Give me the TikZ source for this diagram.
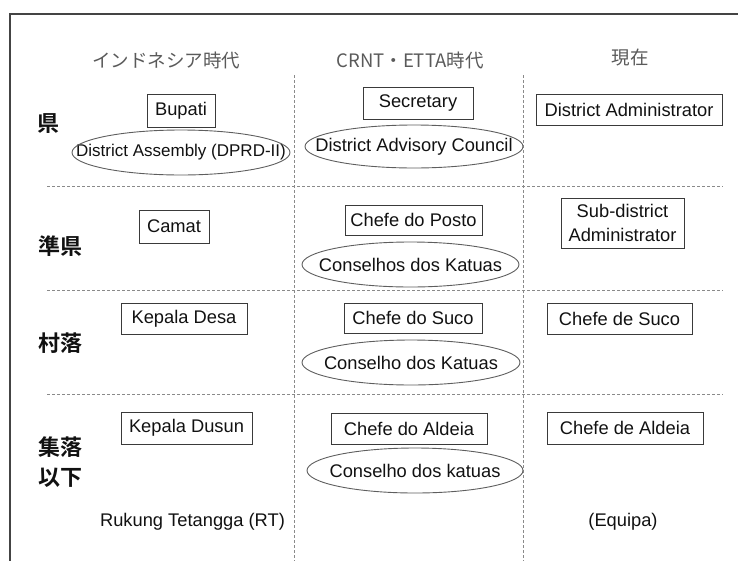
\documentclass[tikz,border=0pt]{standalone}
\usepackage{fontspec}
\setmainfont{Liberation Sans}
\newfontfamily\cjk{Noto Sans CJK JP}
\newfontfamily\cjkb{Noto Sans CJK JP Bold}
\definecolor{txt}{HTML}{111111}
\definecolor{hdr}{HTML}{5A5A5A}
\definecolor{boxc}{HTML}{3A3A3A}
\definecolor{ellc}{HTML}{5E5E5E}
\definecolor{sepc}{HTML}{8A8A8A}
\definecolor{framec}{HTML}{444444}
\tikzset{
  base/.style={text=txt, font=\fontsize{18.3}{24}\selectfont, inner sep=0pt},
  rolebox/.style={base, draw=boxc, line width=1pt, rectangle},
  councilline/.style={draw=ellc, line width=0.9pt},
  header/.style={text=hdr, font=\cjk\fontsize{18.5}{22}\selectfont, inner sep=0pt},
  level/.style={text=txt, font=\cjkb\fontsize{22}{30}\selectfont, inner sep=0pt, align=left},
  sep/.style={draw=sepc, line width=0.8pt, dash pattern=on 3pt off 2pt},
  plain/.style={base}
}
\begin{document}
\begin{tikzpicture}[x=1pt,y=-1pt]
\useasboundingbox (0,0) rectangle (738,560);
% frame
\draw[framec, line width=2pt] (10,562) -- (10,14) -- (740,14);
% headers
\node[header] (h1) at (166,60) {インドネシア時代};
\node[header] (h2) at (410,60) {CRNT・ETTA時代};
\node[header] (h3) at (630,58) {現在};
% separators
\coordinate (v1t) at (294,75); \coordinate (v1b) at (294,562);
\coordinate (v2t) at (523,75); \coordinate (v2b) at (523,562);
\draw[sep] (v1t) -- (v1b);
\draw[sep] (v2t) -- (v2b);
\coordinate (s1l) at (47,186); \coordinate (s1r) at (723,186);
\coordinate (s2l) at (47,290); \coordinate (s2r) at (723,290);
\coordinate (s3l) at (47,394); \coordinate (s3r) at (723,394);
\draw[sep] (s1l) -- (s1r);
\draw[sep] (s2l) -- (s2r);
\draw[sep] (s3l) -- (s3r);
% level labels
\node[level] (l1) at (48,124) {県};
\node[level] (l2) at (60,246) {準県};
\node[level] (l3) at (60,343) {村落};
\node[level] (l4) at (60,462) {集落\\以下};
% row 1
\node[rolebox, minimum width=68pt, minimum height=33pt] (bupati) at (181,110.5) {Bupati};
\node[plain, font=\fontsize{17}{20}\selectfont] (dprd) at (181,152.5) {District Assembly (DPRD-II)};
\draw[councilline] (dprd.center) ellipse [x radius=109, y radius=22.5];
\node[rolebox, minimum width=110pt, minimum height=32pt] (secr) at (418,103) {Secretary};
\node[plain] (dac) at (414,146.5) {District Advisory Council};
\draw[councilline] (dac.center) ellipse [x radius=109, y radius=21.5];
\node[rolebox, minimum width=186pt, minimum height=31pt] (dadm) at (629,109.5) {District Administrator};
% row 2
\node[rolebox, minimum width=70pt, minimum height=33pt] (camat) at (174,226.5) {Camat};
\node[rolebox, minimum width=137pt, minimum height=30pt] (posto) at (413.5,220) {Chefe do Posto};
\node[plain] (cposto) at (410.5,264.5) {Conselhos dos Katuas};
\draw[councilline] (cposto.center) ellipse [x radius=108.5, y radius=22.5];
\node[rolebox, minimum width=123pt, minimum height=50pt, align=center] (sadm) at (622.5,223) {Sub-district\\Administrator};
% row 3
\node[rolebox, minimum width=126pt, minimum height=31pt] (desa) at (184,318.5) {Kepala Desa};
\node[rolebox, minimum width=138pt, minimum height=30pt] (suco) at (413,318) {Chefe do Suco};
\node[plain] (csuco) at (411,362.5) {Conselho dos Katuas};
\draw[councilline] (csuco.center) ellipse [x radius=109, y radius=22.5];
\node[rolebox, minimum width=145pt, minimum height=31pt] (suco2) at (619.5,318.5) {Chefe de Suco};
% row 4
\node[rolebox, minimum width=131pt, minimum height=32pt] (dusun) at (186.5,428) {Kepala Dusun};
\node[rolebox, minimum width=156pt, minimum height=31pt] (aldeia) at (409,428.5) {Chefe do Aldeia};
\node[plain] (caldeia) at (415,470.5) {Conselho dos katuas};
\draw[councilline] (caldeia.center) ellipse [x radius=108, y radius=22.5];
\node[rolebox, minimum width=156pt, minimum height=32pt] (aldeia2) at (625,428) {Chefe de Aldeia};
\node[plain] (rt) at (192.5,522) {Rukung Tetangga (RT)};
\node[plain] (equipa) at (623,522) {(Equipa)};
\end{tikzpicture}
\end{document}
